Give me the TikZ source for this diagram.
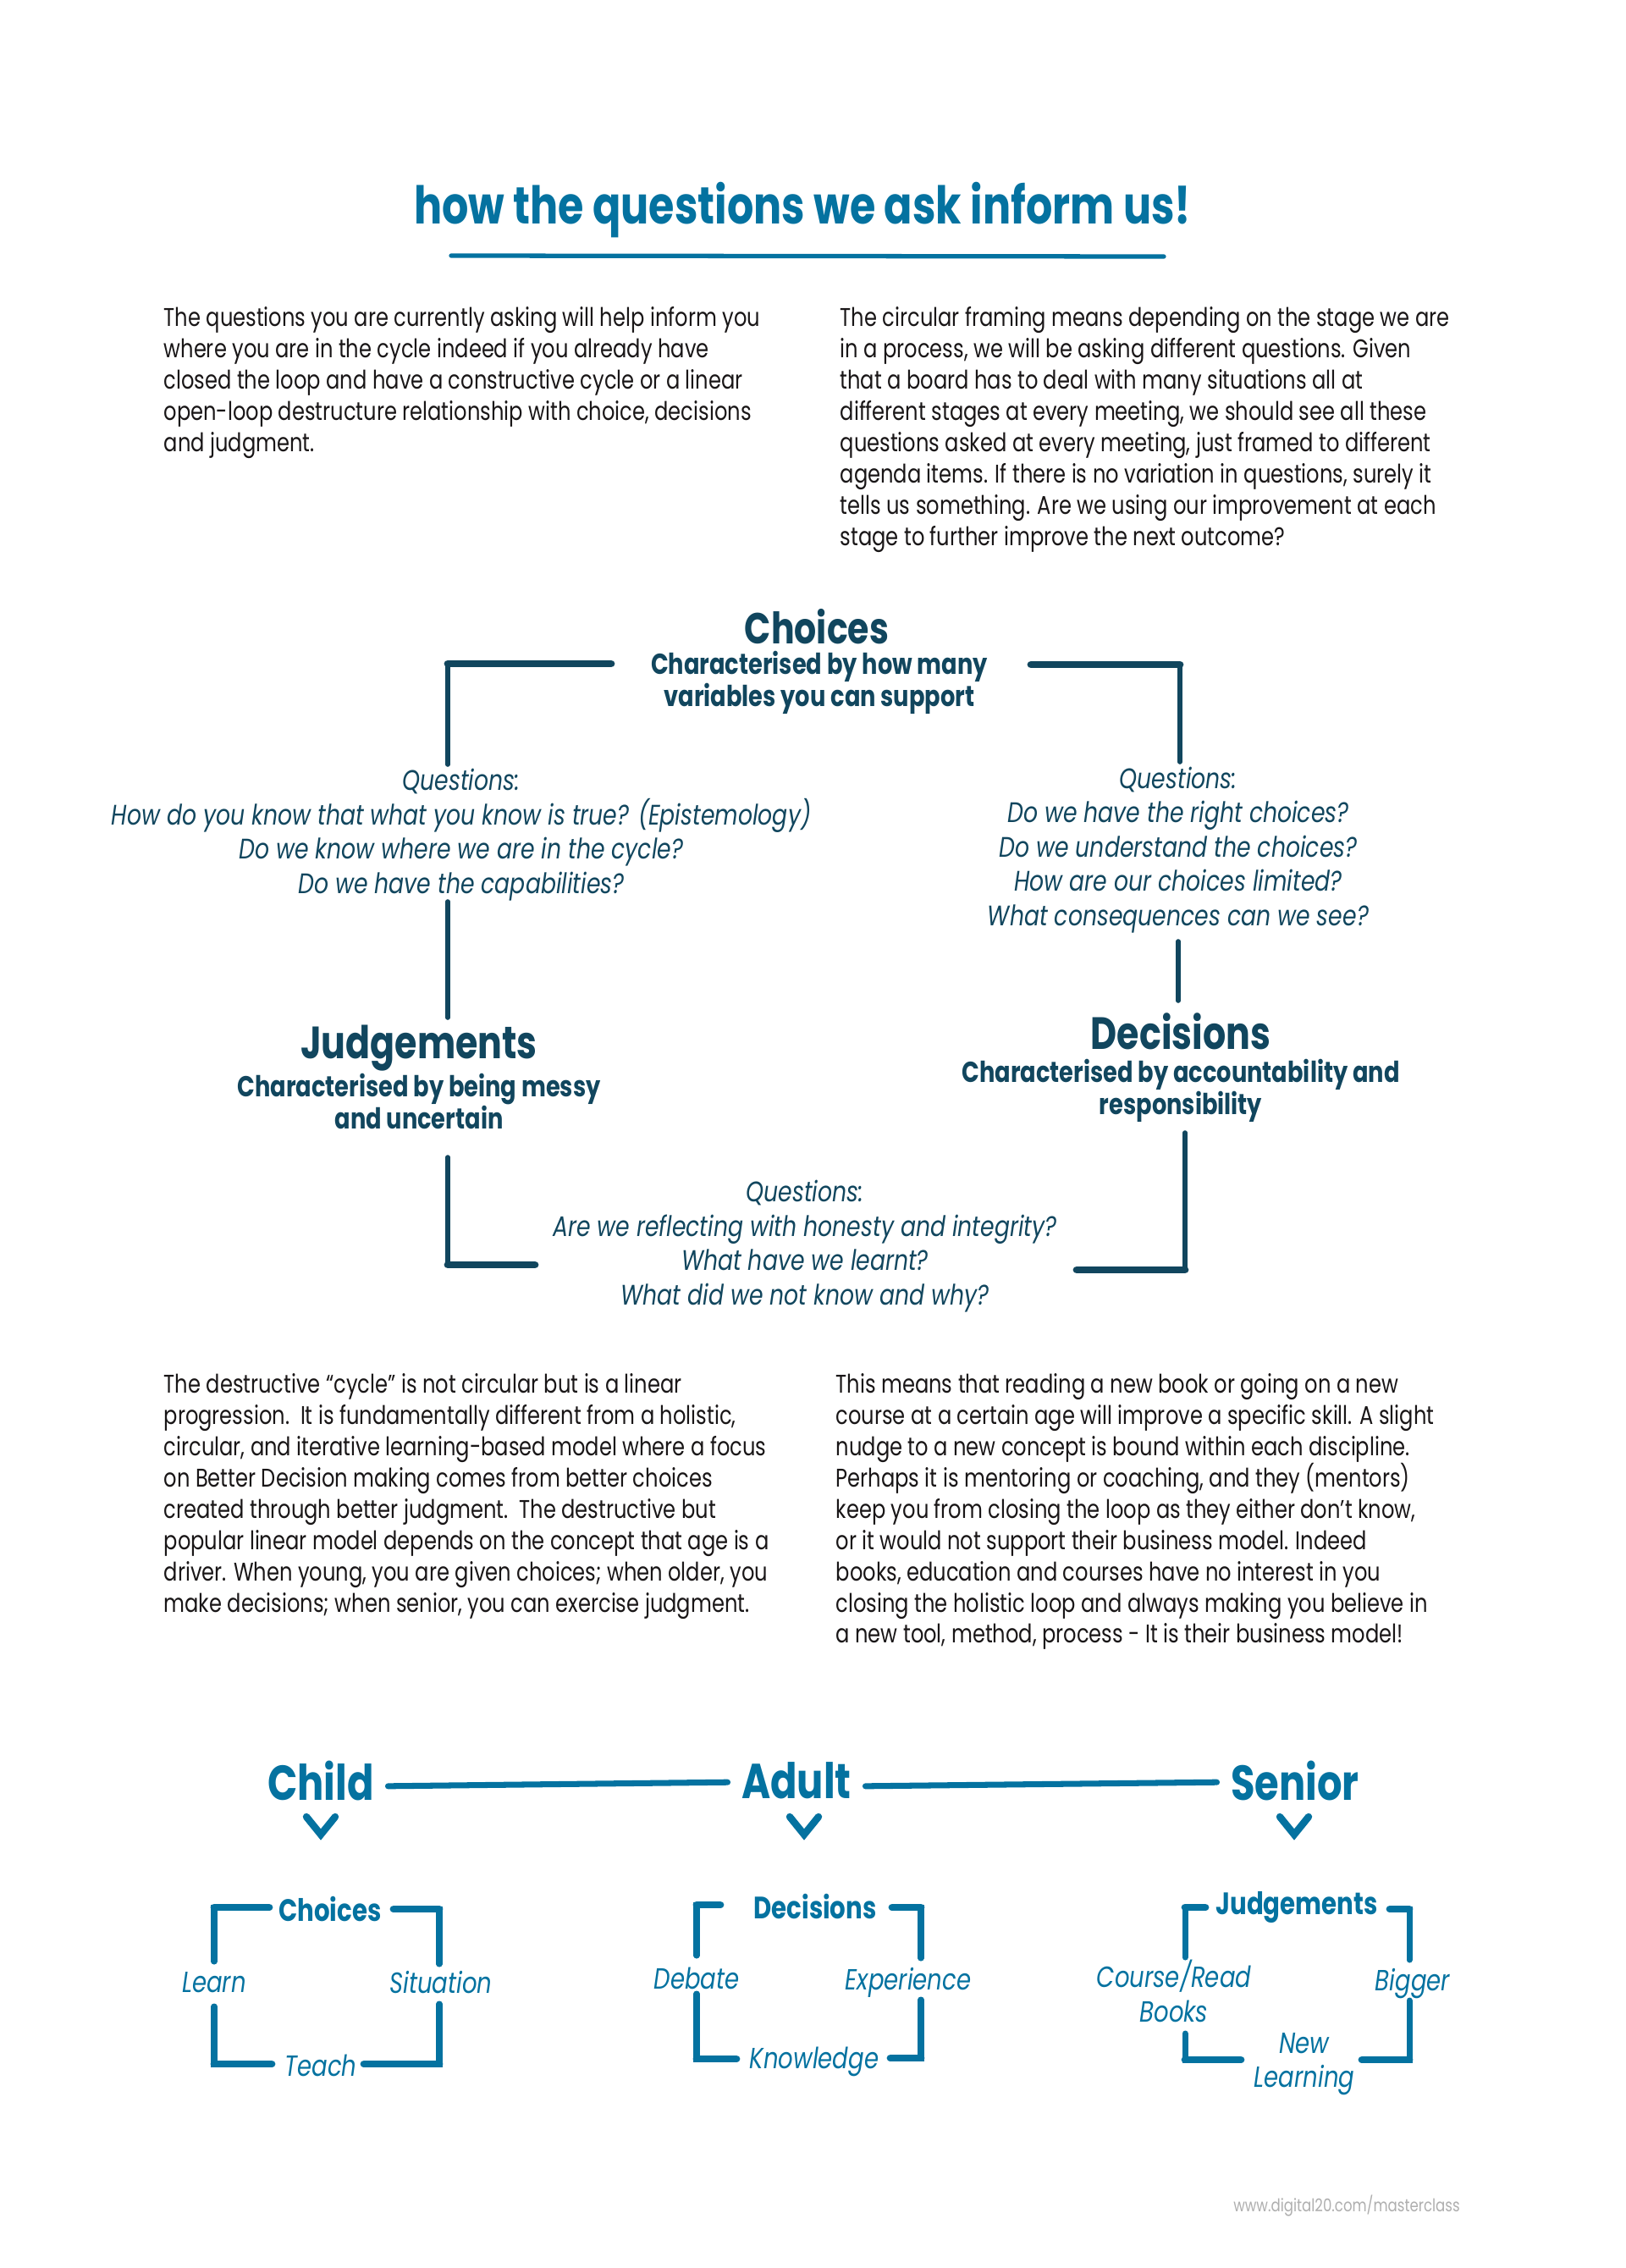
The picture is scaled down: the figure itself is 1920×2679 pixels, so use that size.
\documentclass[tikz,border=0pt]{standalone}
\usepackage{fontspec}
\setmainfont{Poppins}[FakeStretch=0.8]
\usepackage{xcolor}
\definecolor{deepteal}{RGB}{17,70,94}
\definecolor{brandblue}{RGB}{4,114,160}
\definecolor{inkgray}{RGB}{25,22,23}
\definecolor{footgray}{RGB}{175,175,175}
\newcommand{\fsz}[2]{\fontsize{#1}{#2}\selectfont}

\begin{document}
\begin{tikzpicture}[x=0.1mm, y=-0.1mm,
  every node/.style={inner sep=0pt},
  para/.style={anchor=north west, align=left, text=inkgray, font=\fsz{8.6}{10.5}},
  bighead/.style={font=\bfseries\fsz{15.2}{17}, text=deepteal},
  subhead/.style={align=center, font=\bfseries\fsz{9.7}{10.8}, text=deepteal},
  quest/.style={align=center, font=\itshape\fsz{9.5}{11.5}, text=deepteal},
  vbar/.style={draw=deepteal, line width=1.6pt, line cap=round},
  hbar/.style={draw=deepteal, line width=2.5pt, line cap=round},
  age/.style={font=\bfseries\fsz{16.5}{18}, text=brandblue},
  ageline/.style={draw=brandblue, line width=2pt, line cap=round},
  chev/.style={draw=brandblue, line width=2.4pt, line cap=round},
  stage/.style={font=\bfseries\fsz{10.4}{12}, text=brandblue},
  looplabel/.style={align=center, font=\itshape\fsz{9.8}{11.6}, text=brandblue},
  lvbar/.style={draw=brandblue, line width=2pt, line cap=round},
  lhbar/.style={draw=brandblue, line width=2.5pt, line cap=round}
]
\fill[white] (0,0) rectangle (1920,2679);
\useasboundingbox (0,0) rectangle (1920,2679);

% title
\node[font=\bfseries\fsz{17.5}{19}, text=brandblue] (title) at (948,248) {how the questions we ask inform us!};
\coordinate (ulL) at (533,302);
\coordinate (ulR) at (1375,303);
\draw[draw=brandblue, line width=1.5pt, line cap=round] (ulL) -- (ulR);

% intro text
\node[para] (para1) at (193,362) {The questions you are currently asking will help inform you\\
where you are in the cycle indeed if you already have\\
closed the loop and have a constructive cycle or a linear\\
open-loop destructure relationship with choice, decisions\\
and judgment.};
\node[para] (para2) at (992,362) {The circular framing means depending on the stage we are\\
in a process, we will be asking different questions. Given\\
that a board has to deal with many situations all at\\
different stages at every meeting, we should see all these\\
questions asked at every meeting, just framed to different\\
agenda items. If there is no variation in questions, surely it\\
tells us something. Are we using our improvement at each\\
stage to further improve the next outcome?};

% the cycle
\node[bighead, font=\bfseries\fsz{14.6}{17}] (choices) at (965,740) {Choices};
\node[subhead] (choicesSub) at (968,806) {Characterised by how many\\variables you can support};
\node[quest] (qLeft) at (545,986) {Questions:\\How do you know that what you know is true? (Epistemology)\\Do we know where we are in the cycle?\\Do we have the capabilities?};
\node[quest] (qRight) at (1392,1004) {Questions:\\Do we have the right choices?\\Do we understand the choices?\\How are our choices limited?\\What consequences can we see?};
\node[bighead] (judge) at (495,1238) {Judgements};
\node[subhead] (judgeSub) at (495,1301) {Characterised by being messy\\and uncertain};
\node[bighead] (decide) at (1395,1218) {Decisions};
\node[subhead] (decideSub) at (1395,1288) {Characterised by accountability and\\responsibility};
\node[quest] (qBottom) at (951,1472) {Questions:\\Are we reflecting with honesty and integrity?\\What have we learnt?\\What did we not know and why?};

\foreach \n/\hx/\hy/\vx/\vy in {tl/722/784/529/903, tr/1218/785/1394/900,
    bl/632/1494/529/1367, br/1272/1500/1400/1338} {
  \coordinate (\n h) at (\hx,\hy);
  \coordinate (\n v) at (\vx,\vy);
  \draw[vbar] (\n h) -| (\n v);
  \draw[hbar] (\n h) -- (\n h -| \n v);
}
\coordinate (lmA) at (529,1065);
\coordinate (lmB) at (529,1202);
\coordinate (rmA) at (1392,1112);
\coordinate (rmB) at (1392,1182);
\draw[vbar] (lmA) -- (lmB);
\draw[vbar] (rmA) -- (rmB);

% lower text
\node[para] (para3) at (193,1622) {The destructive ``cycle'' is not circular but is a linear\\
progression.\ \ It is fundamentally different from a holistic,\\
circular, and iterative learning-based model where a focus\\
on Better Decision making comes from better choices\\
created through better judgment.\ \ The destructive but\\
popular linear model depends on the concept that age is a\\
driver. When young, you are given choices; when older, you\\
make decisions; when senior, you can exercise judgment.};
\node[para] (para4) at (987,1622) {This means that reading a new book or going on a new\\
course at a certain age will improve a specific skill. A slight\\
nudge to a new concept is bound within each discipline.\\
Perhaps it is mentoring or coaching, and they (mentors)\\
keep you from closing the loop as they either don’t know,\\
or it would not support their business model. Indeed\\
books, education and courses have no interest in you\\
closing the holistic loop and always making you believe in\\
a new tool, method, process - It is their business model!};

% ages
\node[age] (child) at (379,2103) {Child};
\node[age] (adult) at (941,2103) {Adult};
\node[age] (senior) at (1530,2103) {Senior};
\draw[ageline, shorten <=1.6mm, shorten >=1.6mm] ([yshift=-0.7mm]child.east) -- ([yshift=-0.2mm]adult.west);
\draw[ageline, shorten <=1.6mm, shorten >=1.6mm] ([yshift=-0.7mm]adult.east) -- ([yshift=-0.2mm]senior.west);
\foreach \n/\cx in {cvChild/379, cvAdult/950, cvSenior/1529} {
  \coordinate (\n) at (\cx,2157);
  \draw[chev] ([shift={(-17,-11)}]\n) -- ([shift={(0,10)}]\n) -- ([shift={(17,-11)}]\n);
}

% small loops
\node[stage] (sChoices) at (390,2255) {Choices};
\node[looplabel] (lLearn) at (253,2342) {Learn};
\node[looplabel] (lSituation) at (521,2342) {Situation};
\node[looplabel] (lTeach) at (379,2440) {Teach};

\node[stage] (sDecisions) at (963,2252) {Decisions};
\node[looplabel] (lDebate) at (823,2337) {Debate};
\node[looplabel] (lExperience) at (1073,2342) {Experience};
\node[looplabel] (lKnowledge) at (962,2435) {Knowledge};

\node[stage] (sJudgements) at (1532,2253) {Judgements};
\node[looplabel] (lCourse) at (1387,2352) {Course/Read\\Books};
\node[looplabel] (lBigger) at (1669,2343) {Bigger};
\node[looplabel] (lNew) at (1541,2438) {New\\Learning};

\foreach \n/\hx/\hy/\vx/\vy in {ctl/318/2253/253/2317, ctr/465/2255/519/2320,
    cbl/321/2438/253/2370, cbr/430/2438/519/2367,
    atl/851/2250/823/2310, atr/1054/2253/1088/2313,
    abl/870/2432/823/2355, abr/1052/2431/1088/2362,
    stl/1424/2253/1400/2312, str/1642/2255/1665/2315,
    sbl/1466/2433/1400/2402, sbr/1609/2433/1665/2363} {
  \coordinate (\n h) at (\hx,\hy);
  \coordinate (\n v) at (\vx,\vy);
  \draw[lvbar] (\n h) -| (\n v);
  \draw[lhbar] (\n h) -- (\n h -| \n v);
}

\node[font=\fsz{5.9}{7}, text=footgray] (footer) at (1591,2605) {www.digital20.com/masterclass};
\end{tikzpicture}
\end{document}
